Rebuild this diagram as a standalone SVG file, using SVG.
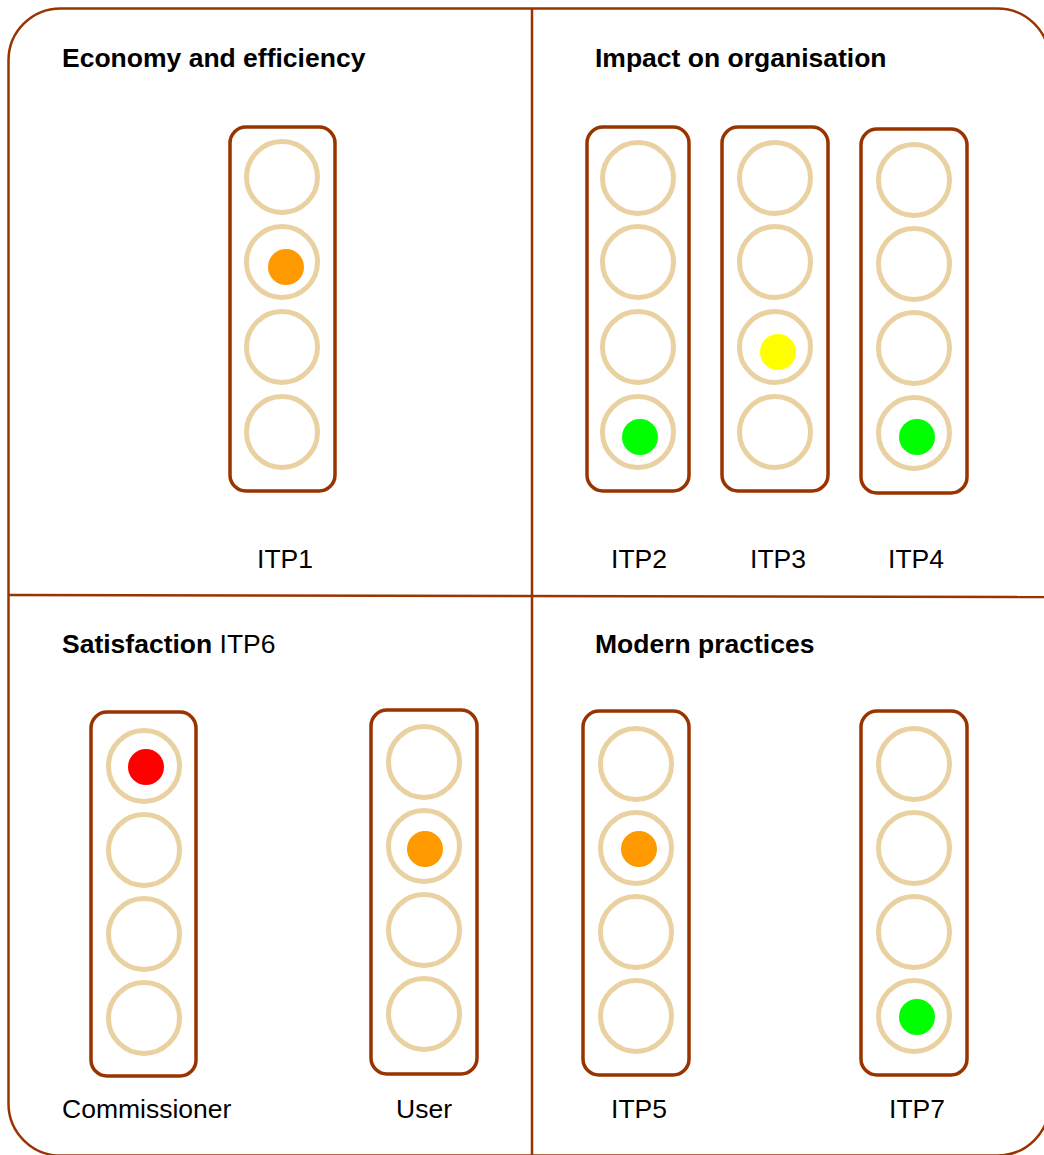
<svg xmlns="http://www.w3.org/2000/svg" width="1044" height="1155" viewBox="0 0 1044 1155">
<style>
.frame{fill:none;stroke:#993300;stroke-width:2.5}
.div{stroke:#993300;stroke-width:2.5}
.house{fill:#ffffff;stroke:#993300;stroke-width:3.5}
.lamp{fill:none;stroke:#EAD1A1;stroke-width:5}
.dot{stroke:none}
.h{font-family:"Liberation Sans",Arial,sans-serif;font-size:26.5px;font-weight:bold;fill:#000}
.t{font-family:"Liberation Sans",Arial,sans-serif;font-size:26.5px;fill:#000}
</style>
<rect class="frame" x="8.5" y="8.5" width="1041" height="1147" rx="52" ry="52"/>
<g id="connectors">
<line class="div" x1="532" y1="8" x2="532" y2="1155"/>
<line class="div" x1="8" y1="595" x2="1044" y2="597"/>
</g>
<g id="headings">
<text class="h" x="62" y="67">Economy and efficiency</text>
<text class="h" x="595" y="67">Impact on organisation</text>
<text class="h" x="62" y="653">Satisfaction<tspan class="t" font-weight="normal"> ITP6</tspan></text>
<text class="h" x="595" y="653">Modern practices</text>
</g>
<g id="itp1">
<rect class="house" x="230" y="127" width="105" height="364" rx="16"/>
<circle class="lamp" cx="282" cy="177" r="35.5"/>
<circle class="lamp" cx="282" cy="262" r="35.5"/>
<circle class="lamp" cx="282" cy="347" r="35.5"/>
<circle class="lamp" cx="282" cy="432" r="35.5"/>
<circle class="dot" cx="286" cy="267" r="18" fill="#FF9900"/>
<text class="t" x="285" y="568" text-anchor="middle">ITP1</text>
</g>
<g id="itp2">
<rect class="house" x="587" y="127" width="102" height="364" rx="16"/>
<circle class="lamp" cx="638" cy="178" r="35.5"/>
<circle class="lamp" cx="638" cy="262" r="35.5"/>
<circle class="lamp" cx="638" cy="347" r="35.5"/>
<circle class="lamp" cx="638" cy="432" r="35.5"/>
<circle class="dot" cx="640" cy="437" r="18" fill="#00FF00"/>
<text class="t" x="639" y="568" text-anchor="middle">ITP2</text>
</g>
<g id="itp3">
<rect class="house" x="722" y="127" width="106" height="364" rx="16"/>
<circle class="lamp" cx="775" cy="178" r="35.5"/>
<circle class="lamp" cx="775" cy="262" r="35.5"/>
<circle class="lamp" cx="775" cy="347" r="35.5"/>
<circle class="lamp" cx="775" cy="432" r="35.5"/>
<circle class="dot" cx="778" cy="352" r="18" fill="#FFFF00"/>
<text class="t" x="778" y="568" text-anchor="middle">ITP3</text>
</g>
<g id="itp4">
<rect class="house" x="861" y="129" width="106" height="364" rx="16"/>
<circle class="lamp" cx="914" cy="180" r="35.5"/>
<circle class="lamp" cx="914" cy="264" r="35.5"/>
<circle class="lamp" cx="914" cy="348" r="35.5"/>
<circle class="lamp" cx="914" cy="433" r="35.5"/>
<circle class="dot" cx="917" cy="437" r="18" fill="#00FF00"/>
<text class="t" x="916" y="568" text-anchor="middle">ITP4</text>
</g>
<g id="commissioner">
<rect class="house" x="91" y="712" width="105" height="364" rx="16"/>
<circle class="lamp" cx="144" cy="766" r="35.5"/>
<circle class="lamp" cx="144" cy="850" r="35.5"/>
<circle class="lamp" cx="144" cy="934" r="35.5"/>
<circle class="lamp" cx="144" cy="1018" r="35.5"/>
<circle class="dot" cx="146" cy="767" r="18" fill="#FF0000"/>
<text class="t" x="62" y="1118">Commissioner</text>
</g>
<g id="user">
<rect class="house" x="371" y="710" width="106" height="364" rx="16"/>
<circle class="lamp" cx="424" cy="762" r="35.5"/>
<circle class="lamp" cx="424" cy="846" r="35.5"/>
<circle class="lamp" cx="424" cy="930" r="35.5"/>
<circle class="lamp" cx="424" cy="1014" r="35.5"/>
<circle class="dot" cx="425" cy="849" r="18" fill="#FF9900"/>
<text class="t" x="424" y="1118" text-anchor="middle">User</text>
</g>
<g id="itp5">
<rect class="house" x="583" y="711" width="106" height="364" rx="16"/>
<circle class="lamp" cx="636" cy="764" r="35.5"/>
<circle class="lamp" cx="636" cy="848" r="35.5"/>
<circle class="lamp" cx="636" cy="932" r="35.5"/>
<circle class="lamp" cx="636" cy="1016" r="35.5"/>
<circle class="dot" cx="639" cy="849" r="18" fill="#FF9900"/>
<text class="t" x="639" y="1118" text-anchor="middle">ITP5</text>
</g>
<g id="itp7">
<rect class="house" x="861" y="711" width="106" height="364" rx="16"/>
<circle class="lamp" cx="914" cy="764" r="35.5"/>
<circle class="lamp" cx="914" cy="848" r="35.5"/>
<circle class="lamp" cx="914" cy="932" r="35.5"/>
<circle class="lamp" cx="914" cy="1016" r="35.5"/>
<circle class="dot" cx="917" cy="1017" r="18" fill="#00FF00"/>
<text class="t" x="917" y="1118" text-anchor="middle">ITP7</text>
</g>
</svg>
